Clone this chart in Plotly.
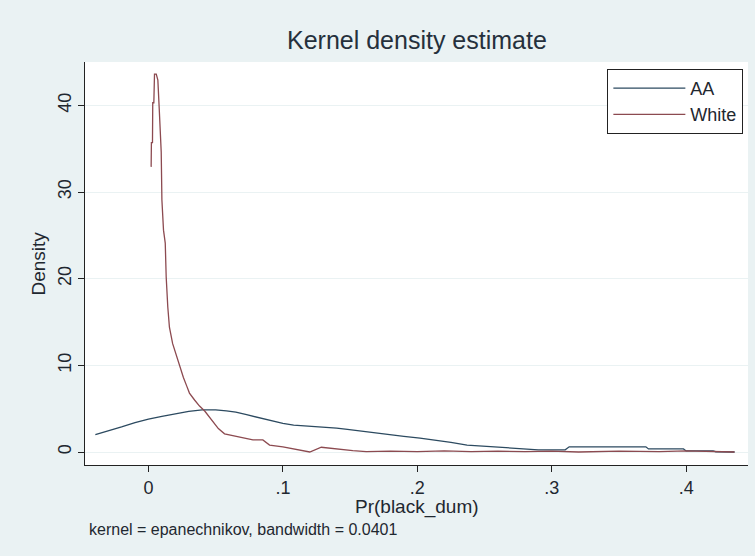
import plotly.graph_objects as go

# ---- data ----
aa_x = [-0.0395, -0.03, -0.02, -0.01, 0.0, 0.01, 0.02, 0.03, 0.04, 0.05, 0.058,
        0.065, 0.073, 0.083, 0.093, 0.1, 0.108, 0.12, 0.128, 0.14, 0.148, 0.16,
        0.177, 0.19, 0.202, 0.215, 0.225, 0.237, 0.25, 0.262, 0.275, 0.29, 0.31,
        0.313, 0.37, 0.372, 0.398, 0.4, 0.42, 0.422, 0.436]
aa_y = [2.0, 2.4, 2.9, 3.4, 3.8, 4.1, 4.4, 4.7, 4.85, 4.85, 4.75,
        4.6, 4.3, 3.9, 3.55, 3.3, 3.1, 3.0, 2.9, 2.75, 2.6, 2.35,
        2.0, 1.8, 1.6, 1.35, 1.1, 0.8, 0.65, 0.55, 0.35, 0.25, 0.25,
        0.6, 0.6, 0.35, 0.35, 0.12, 0.12, 0.03, 0.0]

white_x = [0.0020, 0.0022, 0.0030, 0.0032, 0.0040, 0.0045, 0.0058, 0.0070,
           0.0080, 0.0095, 0.0100, 0.0112, 0.0125, 0.0132, 0.0144, 0.0156,
           0.018, 0.021, 0.023, 0.026, 0.0285, 0.0305, 0.0343, 0.038, 0.042,
           0.048, 0.052, 0.0566, 0.0678, 0.0777, 0.0851, 0.0901, 0.1, 0.1125,
           0.12, 0.1286, 0.137, 0.152, 0.162, 0.18, 0.2, 0.22, 0.24, 0.26,
           0.28, 0.3, 0.32, 0.35, 0.38, 0.4, 0.436]
white_y = [32.9, 35.7, 35.7, 40.3, 40.3, 43.6, 43.6, 42.9,
           39.7, 34.6, 29.1, 25.6, 24.1, 20.2, 16.7, 14.4,
           12.5, 11.0, 10.0, 8.6, 7.6, 6.8, 6.0, 5.3, 4.7,
           3.5, 2.7, 2.1, 1.7, 1.4, 1.4, 0.8, 0.6, 0.25,
           0.0, 0.55, 0.4, 0.15, 0.05, 0.1, 0.05, 0.12, 0.05, 0.1,
           0.05, 0.1, 0.0, 0.1, 0.05, 0.12, 0.0]

x_ticks = [0, 0.1, 0.2, 0.3, 0.4]
x_ticktext = ["0", ".1", ".2", ".3", ".4"]
y_ticks = [0, 10, 20, 30, 40]
y_ticktext = ["0", "10", "20", "30", "40"]

FONT = "Liberation Sans, Arial, sans-serif"
TXT = "#1f2830"

fig = go.Figure()
fig.add_trace(go.Scatter(x=aa_x, y=aa_y, mode="lines", name="AA",
                         line=dict(color="#2c4a60", width=1.3)))
fig.add_trace(go.Scatter(x=white_x, y=white_y, mode="lines", name="White",
                         line=dict(color="#8c4a50", width=1.3)))

fig.update_layout(
    width=755, height=556,
    margin=dict(l=85, r=7, t=62, b=91),
    paper_bgcolor="#eaf2f3", plot_bgcolor="white",
    font=dict(family=FONT, color=TXT, size=17),
    showlegend=True,
    legend=dict(x=0.993, y=0.983, xanchor="right", yanchor="top",
                bgcolor="white", bordercolor="#222222", borderwidth=1,
                font=dict(size=18, color=TXT), itemwidth=72,
                entrywidth=140, entrywidthmode="pixels",
                tracegroupgap=0),
    xaxis=dict(range=[-0.0472, 0.446], tickvals=x_ticks, ticktext=x_ticktext,
               ticks="outside", ticklen=6, tickcolor="#222222", tickwidth=1,
               showline=True, linecolor="#222222", linewidth=1,
               showgrid=False, zeroline=False,
               tickfont=dict(size=18, color=TXT)),
    yaxis=dict(range=[-1.5, 45], tickvals=y_ticks, ticktext=y_ticktext,
               tickangle=-90,
               ticks="outside", ticklen=6, tickcolor="#222222", tickwidth=1,
               showline=True, linecolor="#222222", linewidth=1,
               showgrid=True, gridcolor="#eaf2f3", gridwidth=1,
               zeroline=False,
               tickfont=dict(size=18, color=TXT)),
    annotations=[
        dict(text="Kernel density estimate", xref="paper", yref="paper",
             x=0.5, y=(465 - 40) / 403, xanchor="center", yanchor="middle",
             showarrow=False, font=dict(size=25, color="#25303c")),
        dict(text="Pr(black_dum)", xref="paper", yref="paper",
             x=0.5, y=(465 - 507) / 403, xanchor="center", yanchor="middle",
             showarrow=False, font=dict(size=19, color=TXT)),
        dict(text="Density", xref="paper", yref="paper",
             x=(38 - 85) / 663, y=0.5, xanchor="center", yanchor="middle",
             textangle=-90, showarrow=False, font=dict(size=19, color=TXT)),
        dict(text="kernel = epanechnikov, bandwidth = 0.0401", xref="paper",
             yref="paper", x=(87 - 85) / 663, y=(465 - 529) / 403,
             xanchor="left", yanchor="middle", showarrow=False,
             font=dict(size=16, color=TXT)),
    ],
)

fig.write_html("out.html")
